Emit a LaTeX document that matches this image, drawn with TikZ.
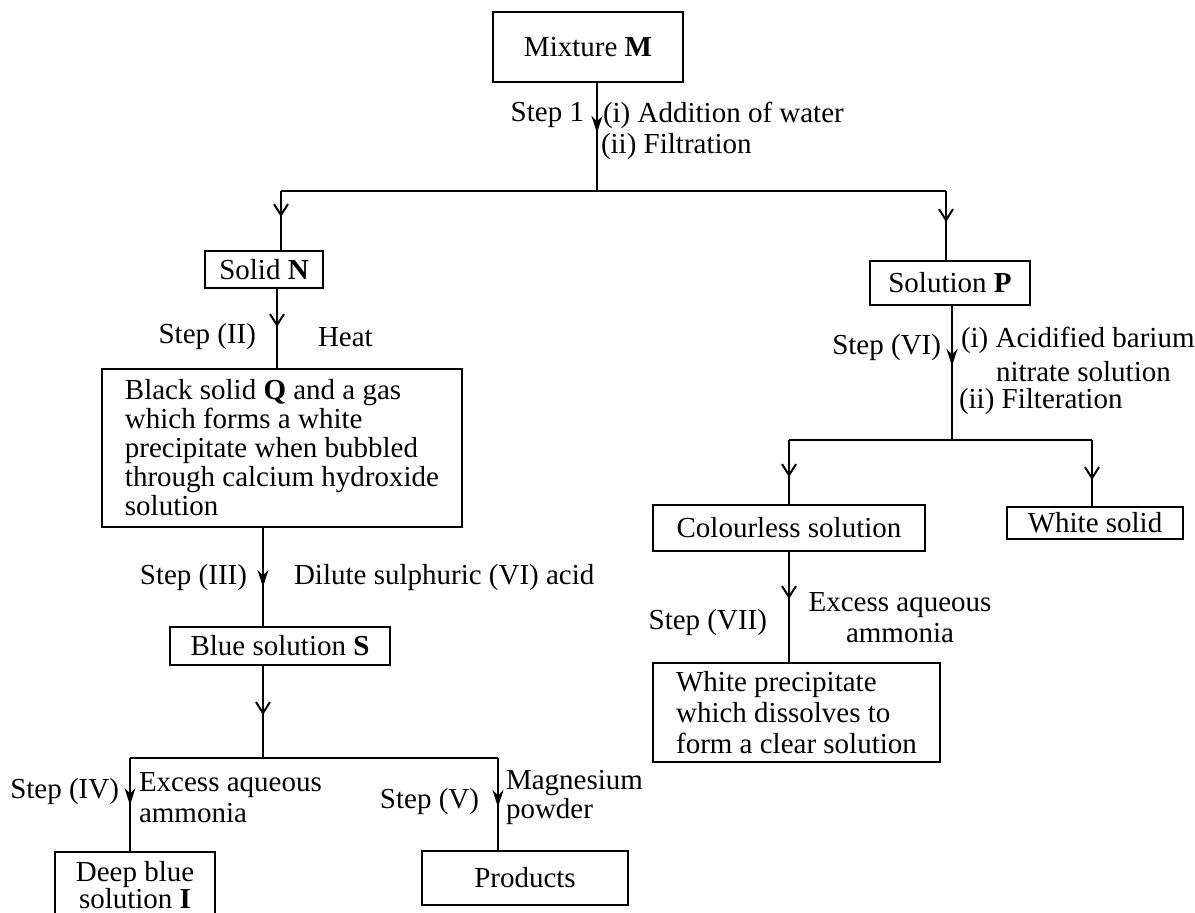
\documentclass[tikz,border=0pt]{standalone}
\usepackage{fontspec}
\setmainfont{Liberation Serif}
\usetikzlibrary{arrows.meta,decorations.markings}
\begin{document}
\begin{tikzpicture}[x=1pt, y=-1pt, line width=2pt,
  font=\fontsize{29}{29}\selectfont,
  box/.style={draw, line width=1.8pt, inner sep=0pt, align=center},
  lbl/.style={inner sep=0pt},
  fa/.style={postaction={decorate}, decoration={markings,
     mark=at position #1 with {\arrow{Stealth[length=17pt,width=11pt]}}}},
  oa/.style={postaction={decorate}, decoration={markings,
     mark=at position #1 with {\arrow{Straight Barb[length=11pt,width=14pt]}}}}]
\useasboundingbox (0,0) rectangle (1195,913);

% boxes
\node[box, minimum width=190pt, minimum height=70pt] (M) at (588,47) {Mixture \textbf{M}};
\node[box, minimum width=118pt, minimum height=37pt] (N) at (264,269.5) {Solid \textbf{N}};
\node[box, minimum width=160pt, minimum height=44pt] (P) at (950,283) {Solution \textbf{P}};
\node[box, align=left, minimum width=360pt, minimum height=158pt] (Q) at (282,448)
  {Black solid \textbf{Q} and a gas\\ which forms a white\\ precipitate when bubbled\\ through calcium hydroxide\\ solution};
\node[box, minimum width=220pt, minimum height=38pt] (S) at (280,646) {Blue solution \textbf{S}};
\node[box, anchor=north, minimum width=160pt, minimum height=66pt,
  font=\fontsize{29}{26}\selectfont] (I) at (135,851) {Deep blue\\ solution \textbf{I}};
\node[box, minimum width=206pt, minimum height=54pt] (R) at (525,878) {Products};
\node[box, minimum width=272pt, minimum height=46pt] (C) at (789,528) {Colourless solution};
\node[box, minimum width=176pt, minimum height=32pt] (W) at (1095,523) {White solid};
\node[box, align=left, minimum width=287pt, minimum height=99pt,
  font=\fontsize{29}{31}\selectfont] (X) at (796.5,712.5)
  {White precipitate\\ which dissolves to\\ form a clear solution};

% junction coordinates
\coordinate (j1) at (597,191);
\coordinate (c1) at (281,191);
\coordinate (c2) at (946,191);
\coordinate (xNQ) at (277,330);
\coordinate (j2) at (263,758);
\coordinate (b1) at (130,758);
\coordinate (b2) at (498,758);
\coordinate (j3) at (952,440);
\coordinate (b3) at (789,440);
\coordinate (b4) at (1092,440);

% connectors
\draw[fa=50pt] (M.south -| j1) -- (j1);
\draw (c1) -- (c2);
\draw[oa=26pt] (c1) -- (N.north -| c1);
\draw[oa=31pt] (c2) -- (P.north -| c2);
\draw[oa=38pt] (N.south -| xNQ) -- (Q.north -| xNQ);
\draw[fa=59pt] (Q.south -| j2) -- (S.north -| j2);
\draw[oa=49pt] (S.south -| j2) -- (j2);
\draw (b1) -- (b2);
\draw[fa=47pt] (b1) -- (I.north -| b1);
\draw[fa=49pt] (b2) -- (R.north -| b2);
\draw[fa=60pt] (P.south -| j3) -- (j3);
\draw (b3) -- (b4);
\draw[oa=37pt] (b3) -- (C.north -| b3);
\draw[oa=40pt] (b4) -- (W.north -| b4);
\draw[oa=47pt] (C.south -| b3) -- (X.north -| b3);

% labels
\node[lbl, anchor=east] (s1) at (585,115) {Step 1};
\node[lbl, anchor=west] (s1a) at (602,115) {(i) Addition of water};
\node[lbl, anchor=west] (s1b) at (600,147) {(ii) Filtration};
\node[lbl, anchor=east] (s2) at (257,337) {Step (II)};
\node[lbl, anchor=west] (s2a) at (317,337) {Heat};
\node[lbl, anchor=east] (s3) at (248,578) {Step (III)};
\node[lbl, anchor=west] (s3a) at (293,578) {Dilute sulphuric (VI) acid};
\node[lbl, anchor=east] (s4) at (120,792) {Step (IV)};
\node[lbl, anchor=west] (s4a) at (138,785) {Excess aqueous};
\node[lbl, anchor=west] (s4b) at (138,813) {ammonia};
\node[lbl, anchor=east] (s5) at (480,802) {Step (V)};
\node[lbl, anchor=west] (s5a) at (505,783) {Magnesium};
\node[lbl, anchor=west] (s5b) at (505,812) {powder};
\node[lbl, anchor=east] (s6) at (942,348) {Step (VI)};
\node[lbl, anchor=west] (s6a) at (960,340) {(i) Acidified barium};
\node[lbl, anchor=west] (s6b) at (995,372) {nitrate solution};
\node[lbl, anchor=west] (s6c) at (958,402) {(ii) Filteration};
\node[lbl, anchor=east] (s7) at (768,623) {Step (VII)};
\node[lbl] (s7a) at (900,605) {Excess aqueous};
\node[lbl] (s7b) at (900,633) {ammonia};
\end{tikzpicture}
\end{document}
